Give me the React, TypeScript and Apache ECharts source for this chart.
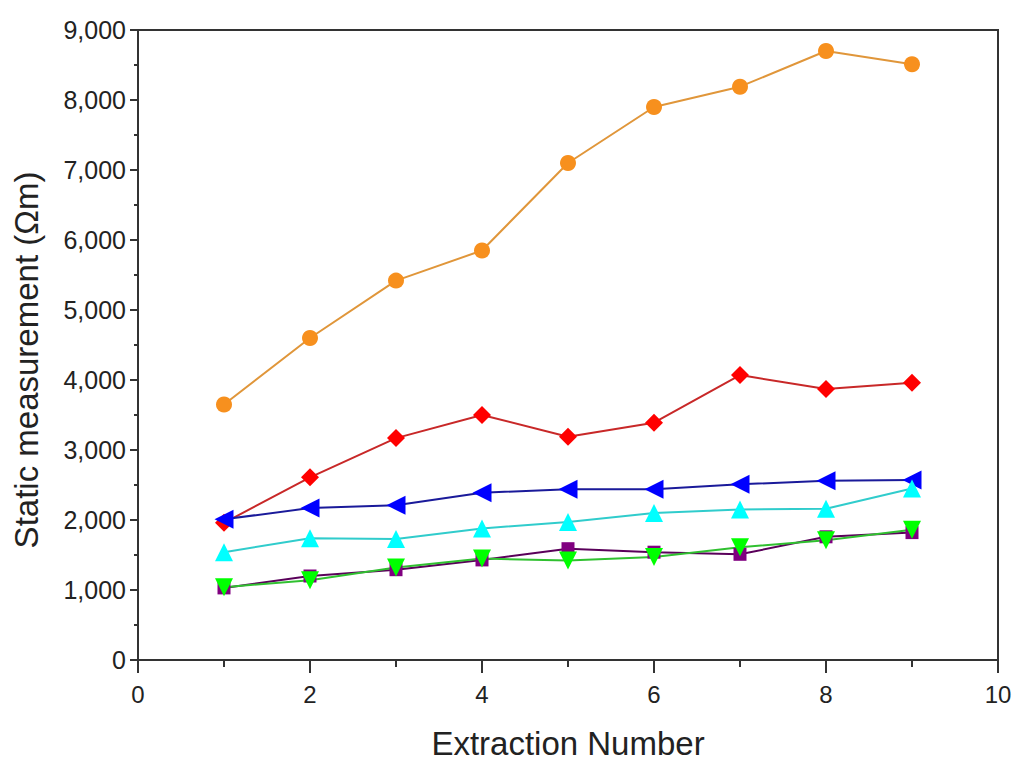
import React, { useEffect, useRef } from "react";
import * as echarts from "echarts";

// extraction numbers on the x axis
const extraction = [1, 2, 3, 4, 5, 6, 7, 8, 9];

const orangeVals = [3650, 4600, 5420, 5850, 7100, 7900, 8190, 8700, 8510];
const redVals = [1960, 2610, 3170, 3500, 3190, 3390, 4070, 3870, 3960];
const blueVals = [2010, 2170, 2210, 2390, 2440, 2440, 2510, 2560, 2570];
const cyanVals = [1540, 1740, 1730, 1880, 1970, 2100, 2150, 2160, 2450];
const purpleVals = [1030, 1200, 1290, 1430, 1590, 1540, 1510, 1760, 1820];
const greenVals = [1040, 1140, 1320, 1450, 1420, 1470, 1610, 1710, 1860];

const xTicks = [0, 2, 4, 6, 8, 10];

const pair = (vals: number[]) => extraction.map((x, i) => [x, vals[i]]);

const mkSeries = (
	vals: number[],
	symbol: string,
	size: number,
	fill: string,
	line: string,
	rotate = 0
) => ({
	type: "line" as const,
	data: pair(vals),
	symbol,
	symbolSize: size,
	symbolRotate: rotate,
	itemStyle: { color: fill },
	lineStyle: { color: line, width: 2 },
	showAllSymbol: true,
});

export default function App() {
	const chartRef = useRef<HTMLDivElement>(null);

	useEffect(() => {
		if (!chartRef.current) return;
		const chart = echarts.init(chartRef.current, null, { renderer: "svg" });

		const font = "Liberation Sans, Arial, sans-serif";
		chart.setOption({
			animation: false,
			backgroundColor: "#ffffff",
			grid: {
				left: 130,
				right: 18,
				top: 22,
				bottom: 105,
				outerBoundsMode: "none",
				show: true,
				borderColor: "#333333",
				borderWidth: 2,
				backgroundColor: "transparent",
			},
			xAxis: {
				type: "value",
				min: 0,
				max: 10,
				interval: 2,
				name: "Extraction Number",
				nameLocation: "middle",
				nameGap: 67,
				nameTextStyle: { fontFamily: font, fontSize: 33, color: "#222" },
				axisLine: { show: true, onZero: false, lineStyle: { color: "#333", width: 2 } },
				axisTick: { show: true, inside: false, length: 13, lineStyle: { color: "#333", width: 2 } },
				minorTick: { show: true, splitNumber: 2, length: 7, lineStyle: { color: "#333", width: 2 } },
				axisLabel: {
					fontFamily: font,
					fontSize: 24,
					color: "#222",
					margin: 22,
					formatter: (v: number) => (xTicks.includes(v) ? String(v) : ""),
				},
				splitLine: { show: false },
			},
			yAxis: {
				type: "value",
				min: 0,
				max: 9000,
				interval: 1000,
				name: "Static measurement (Ωm)",
				nameLocation: "middle",
				nameGap: 95,
				nameTextStyle: {
					fontFamily: font,
					fontSize: 33,
					color: "#222",
					padding: [0, 30, 0, 0],
				},
				axisLine: { show: true, lineStyle: { color: "#333", width: 2 } },
				axisTick: { show: true, inside: false, length: 8, lineStyle: { color: "#333", width: 2 } },
				minorTick: { show: true, splitNumber: 2, length: 4, lineStyle: { color: "#333", width: 2 } },
				axisLabel: {
					fontFamily: font,
					fontSize: 25,
					color: "#222",
					margin: 12,
					formatter: (v: number) => v.toLocaleString("en-US"),
				},
				splitLine: { show: false },
			},
			series: [
				mkSeries(orangeVals, "circle", 16, "#f7901e", "#e0963a"),
				mkSeries(redVals, "diamond", 18, "#ff0000", "#c82828"),
				mkSeries(blueVals, "triangle", 19, "#0000ff", "#1a1a9a", 90),
				mkSeries(cyanVals, "triangle", 18, "#00ffff", "#30cccc"),
				mkSeries(purpleVals, "rect", 13, "#800080", "#5a005a"),
				mkSeries(greenVals, "triangle", 18, "#00ff00", "#30c030", 180),
			],
		});

		const handleResize = () => chart.resize();
		window.addEventListener("resize", handleResize);
		return () => {
			window.removeEventListener("resize", handleResize);
			chart.dispose();
		};
	}, []);

	return <div ref={chartRef} style={{ width: 1008, height: 757 }} />;
}
